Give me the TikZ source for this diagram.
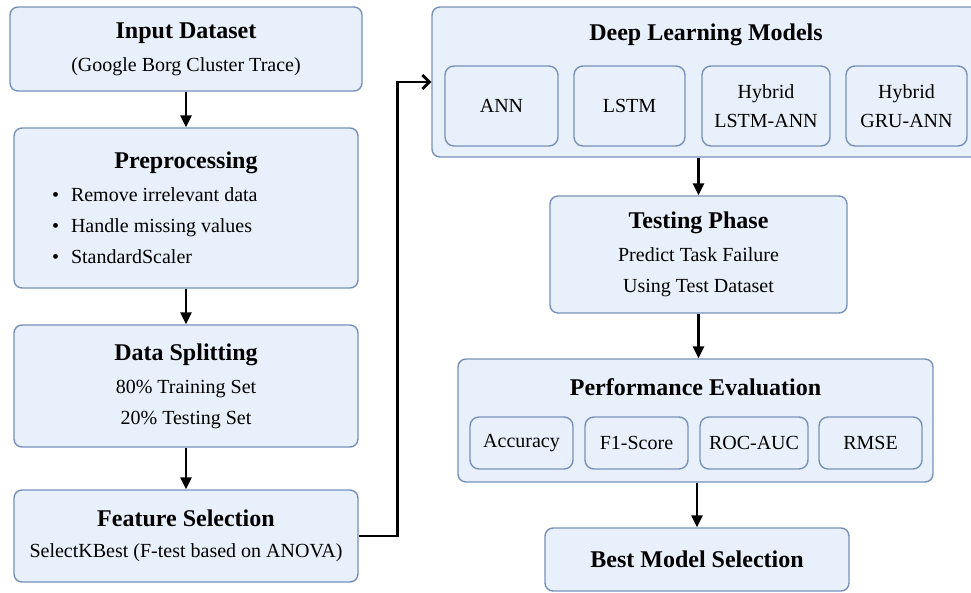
\documentclass[tikz,border=0pt]{standalone}
\usepackage{fontspec}
\setmainfont{Liberation Serif}
\usetikzlibrary{arrows.meta}
\definecolor{boxfill}{RGB}{232,240,251}
\definecolor{boxline}{RGB}{120,145,186}
\newcommand{\stagetitle}[1]{{\fontsize{24}{28}\selectfont\bfseries #1}}
\newcommand{\itembullet}{\textbullet\hspace{12pt}}

\begin{document}
\begin{tikzpicture}[x=1pt,y=-1pt,
	stage_box/.style={draw=boxline,fill=boxfill,line width=1.4pt,rounded corners=8pt,align=center,inner sep=0pt,font=\fontsize{20}{31}\selectfont},
	item_box/.style={draw=boxline,fill=boxfill,line width=1.4pt,rounded corners=9pt,align=center,inner sep=0pt,font=\fontsize{20}{29}\selectfont},
	flow_arrow/.style={line width=2.5pt,-{Triangle[length=12pt,width=11pt]}}]

		\useasboundingbox (0,0) rectangle (971,592);

		% left column
		\node[stage_box,minimum width=352pt,minimum height=84pt] (input) at (186,49) {\stagetitle{Input Dataset}\\[2pt](Google Borg Cluster Trace)};
		\node[stage_box,minimum width=344pt,minimum height=160pt] (prep) at (186,208) {\stagetitle{Preprocessing}\\[2pt]\parbox[t]{268pt}{\raggedright\itembullet Remove irrelevant data\\\itembullet Handle missing values\\\itembullet StandardScaler}};
		\node[stage_box,minimum width=344pt,minimum height=122pt] (split) at (186,386) {\stagetitle{Data Splitting}\\[2pt]80\% Training Set\\20\% Testing Set};
		\node[stage_box,minimum width=344pt,minimum height=92pt] (feat) at (186,536) {\stagetitle{Feature Selection}\\[0pt]SelectKBest (F-test based on ANOVA)};

		% models
		\node[stage_box,minimum width=548pt,minimum height=150pt] (dl) at (706,82) {};
		\node (dl_title) at (706,35) {\stagetitle{Deep Learning Models}};
		\node[item_box,minimum width=113pt,minimum height=80pt] (ann) at (501.5,106) {ANN};
		\node[item_box,minimum width=111pt,minimum height=80pt] (lstm) at (629.5,106) {LSTM};
		\node[item_box,minimum width=128pt,minimum height=80pt] (hyb_lstm) at (766,106) {Hybrid\\LSTM-ANN};
		\node[item_box,minimum width=121pt,minimum height=80pt] (hyb_gru) at (906.5,106) {Hybrid\\GRU-ANN};

		\node[stage_box,minimum width=297pt,minimum height=117pt] (test) at (698.5,254.5) {\stagetitle{Testing Phase}\\[2pt]Predict Task Failure\\Using Test Dataset};

		% evaluation
		\node[stage_box,minimum width=475pt,minimum height=123pt] (perf) at (695.5,420.5) {};
		\node (perf_title) at (695.5,387) {\stagetitle{Performance Evaluation}};
		\node[item_box,minimum width=103pt,minimum height=52pt] (acc) at (521.5,443) {Accuracy};
		\node[item_box,minimum width=103pt,minimum height=52pt] (f1) at (636.5,443) {F1-Score};
		\node[item_box,minimum width=108pt,minimum height=52pt] (roc) at (754,443) {ROC-AUC};
		\node[item_box,minimum width=103pt,minimum height=52pt] (rmse) at (870.5,443) {RMSE};

		\node[stage_box,minimum width=304pt,minimum height=63pt] (best) at (697,559.5) {\stagetitle{Best Model Selection}};

		\draw[flow_arrow] (input) -- (prep);
		\draw[flow_arrow] (prep) -- (split);
		\draw[flow_arrow] (split) -- (feat);
		\draw[line width=2.8pt,-{Straight Barb[length=7pt,width=14pt]}] (feat.east) -- ++(39,0) |- (dl.west);
		\draw[flow_arrow] (test.north |- dl.south) -- (test.north);
		\draw[flow_arrow] (test.south) -- (test.south |- perf.north);
		\draw[flow_arrow] (best.north |- perf.south) -- (best.north);
		\end{tikzpicture}
\end{document}
